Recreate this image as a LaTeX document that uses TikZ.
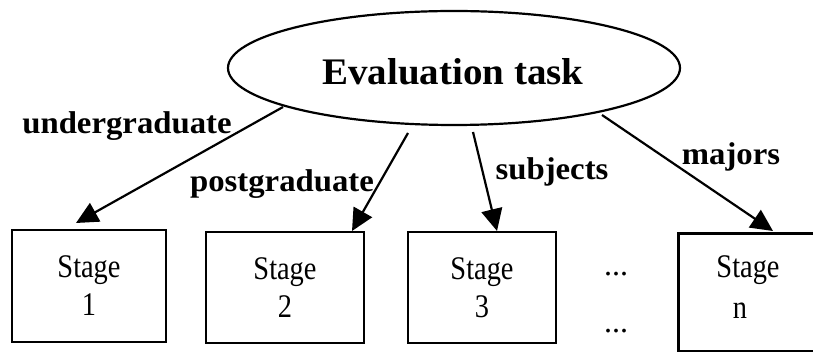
\documentclass[tikz,border=0pt]{standalone}
\usepackage{fontspec}
\setmainfont{Liberation Serif}[BoldFeatures={FakeStretch=1.04}]
\newfontfamily\stagefont[FakeStretch=0.86]{Liberation Serif}
\usetikzlibrary{arrows.meta,shapes.geometric}
\tikzset{
  arr/.style={line width=2.2pt,-{Triangle[length=22pt,width=21pt]}},
  stagebox/.style={draw,line width=2.8pt,inner sep=0pt,align=center,
    font=\stagefont\fontsize{33}{38}\selectfont},
  lbl/.style={font=\bfseries\fontsize{31.5}{34}\selectfont,inner sep=0pt},
  dots/.style={font=\fontsize{32}{34}\selectfont,inner sep=0pt}
}
\begin{document}
\begin{tikzpicture}[x=1pt,y=-1pt]
\useasboundingbox (0,0) rectangle (813,352);
\clip (0,0) rectangle (813,352);
\node[draw,ellipse,line width=2.2pt,minimum width=452pt,minimum height=114pt,inner sep=0pt] (task) at (454,68) {};
\node[font=\bfseries\fontsize{37.5}{40}\selectfont,inner sep=0pt] (title) at (453,72) {Evaluation task};
\node[stagebox,minimum width=154pt,minimum height=112pt] (s1) at (89,286) {Stage\\1};
\node[stagebox,minimum width=158pt,minimum height=111pt] (s2) at (285,287.5) {Stage\\2};
\node[stagebox,minimum width=148pt,minimum height=111pt] (s3) at (482,287.5) {Stage\\3};
\node[stagebox,minimum width=150pt,minimum height=118pt,anchor=north west] (sn) at (677,232) {};
\node[font=\stagefont\fontsize{33}{38}\selectfont,inner sep=0pt] (snt) at (748,270) {Stage};
\node[font=\stagefont\fontsize{33}{38}\selectfont,inner sep=0pt] (snn) at (740,311) {n};
\node[dots] (d1) at (616,274) {...};
\node[dots] (d2) at (616,331) {...};
\coordinate (a1) at (283,107);
\coordinate (b1) at (76,223);
\coordinate (a2) at (408,133);
\coordinate (b2) at (352,231);
\coordinate (a3) at (473,132);
\coordinate (b3) at (497,231);
\coordinate (a4) at (602,115);
\coordinate (b4) at (773,231);
\draw[arr] (a1) -- (b1);
\draw[arr] (a2) -- (b2);
\draw[arr] (a3) -- (b3);
\draw[arr] (a4) -- (b4);
\node[lbl] (l1) at (127,126) {undergraduate};
\node[lbl] (l2) at (282,184) {postgraduate};
\node[lbl] (l3) at (552,172) {subjects};
\node[lbl] (l4) at (731,157) {majors};
\end{tikzpicture}
\end{document}
